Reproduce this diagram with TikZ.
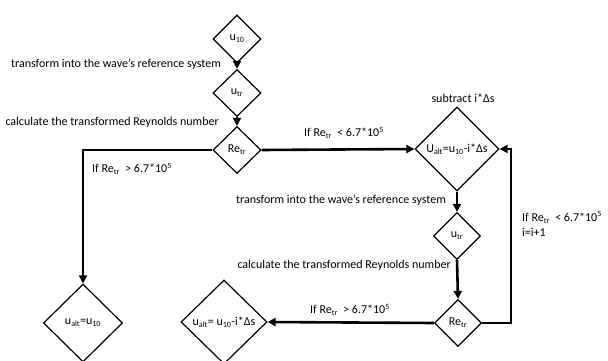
\documentclass[tikz,border=0pt]{standalone}
\usepackage{fontspec}
\setmainfont{Carlito}
\usetikzlibrary{shapes.geometric,arrows.meta}
\begin{document}
\begin{tikzpicture}[x=1pt,y=1pt,
  dia/.style={shape=diamond,draw,line width=1.2pt,inner sep=0pt,font=\fontsize{12}{14}\selectfont},
  lbl/.style={inner sep=0pt,font=\fontsize{12}{15}\selectfont},
  conn/.style={line width=2.6pt},
  arr/.style={conn,-{Triangle[length=8pt,width=8pt]}}]
\useasboundingbox (0,0) rectangle (608,-361);
% diamonds
\node[dia,minimum width=48pt,minimum height=48pt] (u10) at (237,-39) {\makebox[0pt]{u\textsubscript{10}}};
\node[dia,minimum width=48pt,minimum height=47pt] (utr1) at (237,-93) {\makebox[0pt]{u\textsubscript{tr}}};
\node[dia,minimum width=48pt,minimum height=47pt] (re1) at (237,-150) {\makebox[0pt]{Re\textsubscript{tr}}};
\node[dia,minimum width=84pt,minimum height=84pt] (ualt) at (457,-149) {\makebox[0pt]{U\textsubscript{alt}=u\textsubscript{10}-i*Δs}};
\node[dia,minimum width=47pt,minimum height=47pt] (utr2) at (457,-236) {\makebox[0pt]{u\textsubscript{tr}}};
\node[dia,minimum width=47pt,minimum height=47pt] (re2) at (458,-323) {\makebox[0pt]{Re\textsubscript{tr}}};
\node[dia,minimum width=79pt,minimum height=78pt] (fin1) at (83,-323) {\makebox[0pt]{u\textsubscript{alt}=u\textsubscript{10}}};
\node[dia,minimum width=86pt,minimum height=84pt] (fin2) at (224,-322) {\makebox[0pt]{u\textsubscript{alt}= u\textsubscript{10}-i*Δs}};
\coordinate (loopc) at (511,-323);
% connectors
\draw[arr] (u10.south) -- (utr1.north);
\draw[arr] (utr1.south) -- (re1.north);
\draw[arr] (re1.west) -| (fin1.north);
\draw[arr] (re1.east) -- (ualt.west);
\draw[arr] (ualt.south) -- (utr2.north);
\draw[arr] (utr2.south) -- (re2.north);
\draw[arr] (re2.west) -- (fin2.east);
\draw[arr] (re2.east) -- (loopc) |- (ualt.east);
% labels
\node[lbl,anchor=east] (t1) at (221,-64) {transform into the wave’s reference system};
\node[lbl,anchor=east] (t2) at (219,-122) {calculate the transformed Reynolds number};
\node[lbl,anchor=west] (t3) at (304,-133) {If Re\textsubscript{tr}\ \ < 6.7*10\textsuperscript{5}};
\node[lbl,anchor=west] (t4) at (92,-169) {If Re\textsubscript{tr}\ \ > 6.7*10\textsuperscript{5}};
\node[lbl] (t5) at (463,-98) {subtract i*Δs};
\node[lbl,anchor=east] (t6) at (446,-200) {transform into the wave’s reference system};
\node[lbl,anchor=east] (t7) at (451,-265) {calculate the transformed Reynolds number};
\node[lbl,anchor=west,align=left] (t8) at (522,-224) {If Re\textsubscript{tr}\ \ < 6.7*10\textsuperscript{5}\\i=i+1};
\node[lbl] (t9) at (350,-310) {If Re\textsubscript{tr}\ \ > 6.7*10\textsuperscript{5}};
\end{tikzpicture}
\end{document}
